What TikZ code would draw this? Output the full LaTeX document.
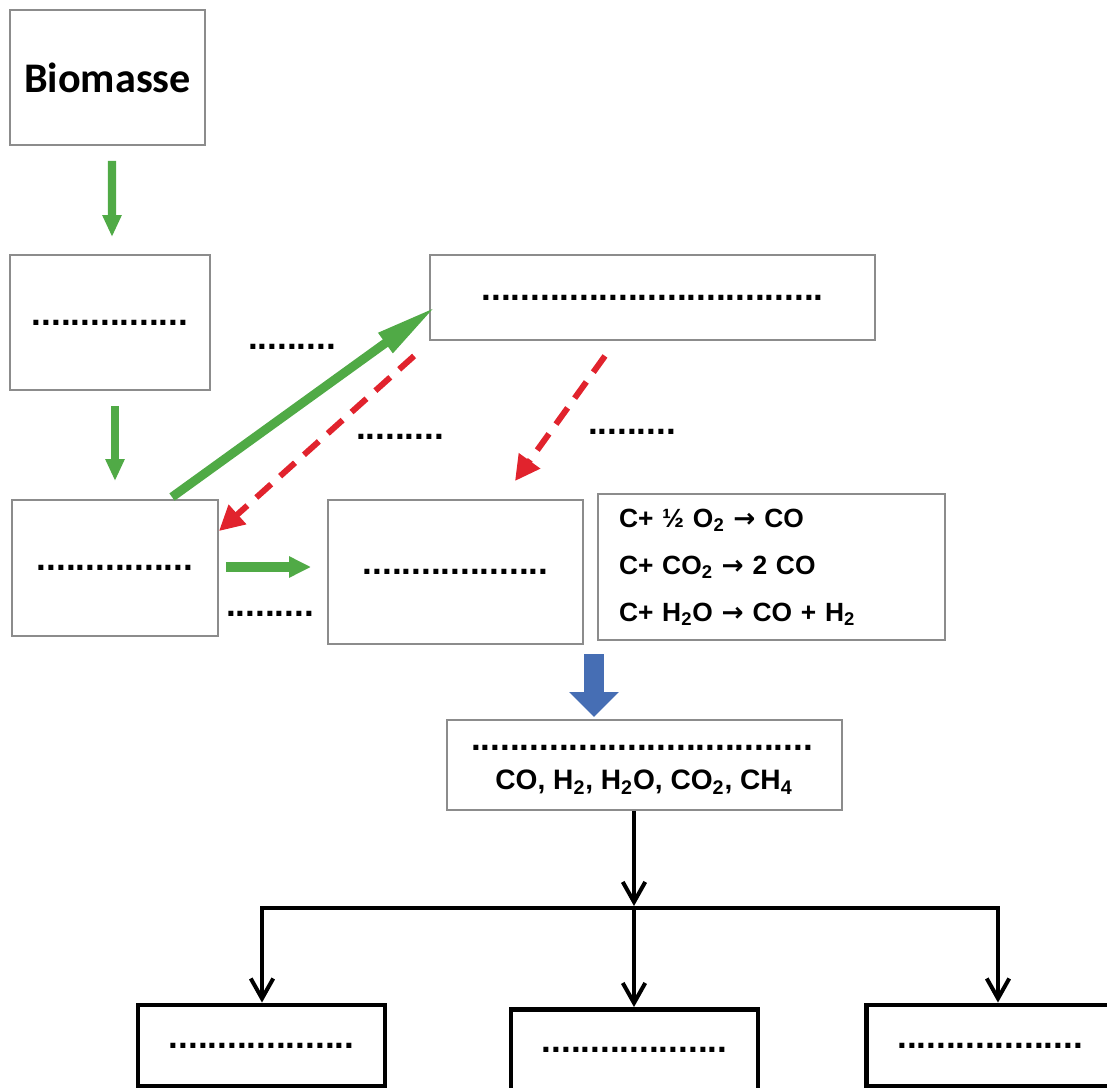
\documentclass[tikz,border=0pt]{standalone}
\usepackage{fontspec}
\setmainfont{Liberation Sans}
\newfontfamily\biofont{Carlito}
\newfontfamily\arrowfont{DejaVu Sans}
\usetikzlibrary{arrows.meta, positioning, calc}
\definecolor{flowgreen}{RGB}{80,170,70}
\definecolor{backred}{RGB}{225,35,45}
\definecolor{gasblue}{RGB}{70,110,180}
\definecolor{boxgray}{RGB}{140,140,140}
\newcommand\dotfont{\bfseries\fontsize{20}{20}\selectfont}
\newcommand\yields{{\arrowfont\bfseries →}}

\begin{document}
\begin{tikzpicture}[
			x=0.02cm, y=-0.02cm,
			box/.style={draw=boxgray, line width=1.1pt, inner sep=0pt, font=\dotfont},
			outbox/.style={draw=black, line width=2.8pt, inner sep=0pt, font=\dotfont,
				minimum width=4.94cm, minimum height=1.62cm},
			dotlbl/.style={inner sep=0pt, font=\dotfont},
			grflow/.style={draw=flowgreen, line width=0.17cm,
				-{Triangle[length=0.44cm, width=0.36cm]}},
			backflow/.style={draw=backred, line width=0.12cm, dash pattern=on 0.4cm off 0.24cm,
				-{Triangle[length=0.5cm, width=0.5cm]}},
			blkline/.style={draw=black, line width=0.08cm},
			blkarrow/.style={blkline, -{Straight Barb[length=0.4cm, width=0.45cm]}}
		]

		\useasboundingbox (0,0) rectangle (1107,1088);
		\clip (0,0) rectangle (1107,1088);

		%% 1. Process boxes
		\node[box, minimum width=3.9cm, minimum height=2.7cm,
			font=\biofont\bfseries\fontsize{24}{24}\selectfont] (biomasse) at (107.5,77.5) {Biomasse};
		\node[box, minimum width=4cm, minimum height=2.7cm] (drying) at (110,322.5) {................};
		\node[box, minimum width=8.9cm, minimum height=1.7cm] (oxid) at (652.5,297.5)
			{...................................};
		\node[box, minimum width=4.12cm, minimum height=2.72cm] (pyro) at (115,568) {................};
		\node[box, minimum width=5.1cm, minimum height=2.88cm] (reduc) at (455.5,572) {...................};

		%% 2. Reactions
		\node[box, minimum width=6.94cm, minimum height=2.92cm, align=left, text width=6.1cm,
			inner xsep=0.42cm, font=\bfseries\fontsize{15}{26.7}\selectfont] (reac) at (771.5,567)
			{C+ ½ O\textsubscript{2} \yields{} CO\\
			 C+ CO\textsubscript{2} \yields{} 2 CO\\
			 C+ H\textsubscript{2}O \yields{} CO + H\textsubscript{2}};

		%% 3. Gas box
		\node[box, minimum width=7.9cm, minimum height=1.8cm] (gas) at (644.5,765) {};
		\node[dotlbl] (gasdots) at (642,748) {...................................};
		\node[inner sep=0pt, font=\bfseries\fontsize{16}{16}\selectfont] (gasmix) at (644,782)
			{CO, H\textsubscript{2}, H\textsubscript{2}O, CO\textsubscript{2}, CH\textsubscript{4}};

		%% 4. Uses
		\node[outbox] (use1) at (261.5,1045.5) {...................};
		\node[outbox] (use2) at (634.5,1050) {...................};
		\node[outbox] (use3) at (990,1045.5) {...................};

		%% Free labels
		\node[dotlbl] (lblA) at (292,347) {.........};
		\node[dotlbl] (lblB) at (400,437) {.........};
		\node[dotlbl] (lblC) at (632,432) {.........};
		\node[dotlbl] (lblD) at (270,614) {.........};

		%% Green flow arrows
		\draw[grflow] ($(biomasse.south)+(4.5,15)$) -- ($(drying.north)+(2,-17)$);
		\draw[grflow] ($(drying.south)+(5,15)$) -- ($(pyro.north)+(0,-18)$);
		\draw[grflow, line width=0.18cm, -{Triangle[length=1.25cm, width=0.45cm]}]
			($(pyro.north)+(57,-2)$) -- ($(oxid.west)+(7,9)$);
		\draw[grflow, line width=0.2cm, -{Triangle[length=0.44cm, width=0.4cm]}]
			($(pyro.east)+(7,-1)$) -- ($(reduc.west)+(-16,-5)$);

		%% Red dashed return arrows
		\draw[backflow] ($(oxid.south west)+(-15,15)$) -- ($(pyro.north east)+(0,32)$);
		\draw[backflow] ($(oxid.south)+(-47.5,15)$) -- ($(reduc.north)+(59.5,-18)$);

		%% Blue arrow to gas
		\draw[draw=gasblue, line width=0.4cm, -{Triangle[length=0.5cm, width=0.96cm]}]
			($(gas.north)+(-50.5,-65)$) -- ($(gas.north)+(-50.5,-2)$);

		%% Split to the uses
		\coordinate (split) at (634,908);
		\coordinate (splitL) at (262,908);
		\coordinate (splitR) at (998,908);
		\draw[blkarrow, shorten >=0.04cm] (gas.south -| split) -- (split);
		\draw[blkline, line cap=rect] (splitL) -- (splitR);
		\draw[blkarrow] (splitL) -- (use1.north -| splitL);
		\draw[blkarrow] (split) -- (use2.north -| split);
		\draw[blkarrow] (splitR) -- (use3.north -| splitR);

\end{tikzpicture}
\end{document}
